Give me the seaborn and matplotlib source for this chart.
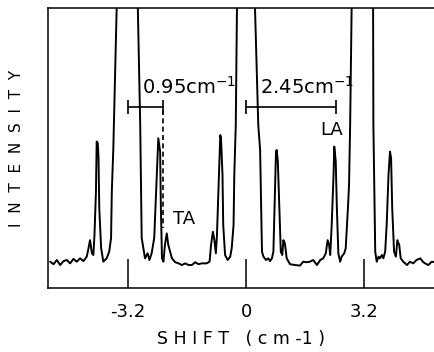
import matplotlib
matplotlib.use("Agg")
import matplotlib.pyplot as plt
import seaborn as sns
import pandas as pd

# Brillouin spectrum trace (shift in cm-1, intensity in arbitrary units 0-100)
# the Rayleigh lines run off the top of the frame, their walls end above the y limit
shift = [
    -5.31, -5.22, -5.13, -5.04, -4.95, -4.86, -4.77, -4.68, -4.59, -4.50,
    -4.41, -4.32, -4.28, -4.23, -4.18, -4.14, -4.11, -4.07, -4.05, -4.02,
    -4.00, -3.98, -3.93, -3.87, -3.78, -3.71, -3.66, -3.64, -3.60, -3.49,
    -2.95, -2.87, -2.83, -2.80, -2.74, -2.67, -2.62, -2.56, -2.49, -2.44,
    -2.38, -2.33, -2.31, -2.28, -2.24, -2.20, -2.15, -2.11, -2.01, -1.92,
    -1.83, -1.74, -1.65, -1.56, -1.47, -1.38, -1.29, -1.20, -1.07, -0.99,
    -0.95, -0.90, -0.86, -0.82, -0.79, -0.75, -0.70, -0.68, -0.64, -0.62,
    -0.57, -0.50, -0.43, -0.39, -0.34, -0.32, -0.28, -0.24,
    0.22, 0.33, 0.38, 0.43, 0.47, 0.54, 0.60, 0.65, 0.70, 0.74,
    0.77, 0.81, 0.83, 0.86, 0.90, 0.94, 0.98, 1.01, 1.05, 1.10,
    1.19, 1.33, 1.46, 1.55, 1.64, 1.73, 1.82, 1.92, 2.01, 2.09,
    2.16, 2.21, 2.25, 2.28, 2.32, 2.37, 2.39, 2.43, 2.46, 2.50,
    2.55, 2.59, 2.66, 2.70, 2.76, 2.79, 2.82, 2.87,
    3.44, 3.45, 3.50, 3.54, 3.59, 3.63, 3.68, 3.72, 3.77, 3.81,
    3.86, 3.90, 3.93, 3.96, 4.01, 4.06, 4.10, 4.15, 4.19, 4.26,
    4.36, 4.44, 4.53, 4.62, 4.72, 4.79, 4.85, 4.94, 5.03, 5.12,
]
intensity = [
    9.4, 8.5, 10.0, 8.2, 9.6, 10.0, 8.8, 10.4, 9.4, 10.6,
    9.6, 11.2, 13.6, 17.1, 12.4, 11.8, 18.9, 34.4, 52.3, 51.7,
    46.4, 28.6, 14.3, 9.4, 10.6, 13.0, 17.9, 34.4, 49.3, 110,
    110, 58.2, 17.9, 15.4, 10.6, 12.4, 10.0, 12.4, 17.9, 34.4,
    53.5, 48.7, 28.6, 10.6, 9.4, 15.4, 19.5, 15.4, 10.6, 9.2,
    8.8, 8.2, 8.8, 8.2, 8.2, 9.2, 8.5, 8.8, 8.8, 9.4,
    15.4, 20.1, 17.1, 12.4, 18.9, 34.4, 54.6, 53.5, 40.4, 22.5,
    11.8, 10.0, 11.2, 14.2, 22.5, 40.4, 58.2, 110,
    110, 58.2, 49.3, 13.0, 11.2, 10.0, 10.6, 9.6, 10.6, 13.0,
    28.6, 48.7, 49.3, 45.1, 28.6, 13.0, 11.8, 17.1, 16.0, 10.6,
    8.5, 8.2, 8.0, 9.4, 9.2, 9.4, 10.0, 8.2, 10.0, 10.6,
    12.4, 17.1, 15.4, 11.8, 22.5, 40.4, 50.5, 45.1, 28.6, 12.4,
    9.4, 11.2, 12.4, 14.2, 28.6, 36.8, 58.2, 110,
    110, 58.2, 13.0, 9.4, 11.2, 10.6, 11.8, 10.6, 13.0, 22.5,
    40.4, 48.7, 46.3, 28.6, 13.0, 11.2, 17.1, 15.4, 10.6, 9.4,
    8.2, 9.4, 8.8, 10.0, 10.6, 9.4, 8.8, 8.2, 9.4, 9.2,
]

tick_pos = [-3.2, 0, 3.2]
tick_labels = ["-3.2", "0", "3.2"]

# splitting brackets: (start, end, label)
ta_bar = (-3.2, -2.25, "0.95cm$^{-1}$")
la_bar = (0.0, 2.45, "2.45cm$^{-1}$")

df = pd.DataFrame({"shift": shift, "intensity": intensity})

sns.set_style("white")
plt.rcParams["font.family"] = ["DejaVu Sans"]
plt.rcParams["axes.unicode_minus"] = False
plt.rcParams["text.color"] = "black"
plt.rcParams["axes.labelcolor"] = "black"
plt.rcParams["xtick.color"] = "black"

fig = plt.figure(figsize=(4.35, 3.52), dpi=100)
ax = fig.add_axes([0.1103, 0.1818, 0.8897, 0.7955])

sns.lineplot(data=df, x="shift", y="intensity", sort=False, estimator=None,
             color="black", linewidth=1.4, ax=ax)

ax.set_xlim(-5.37, 5.12)
ax.set_ylim(0, 100)

# brackets with end caps
bar_y = 64.6
for x0, x1, txt in [ta_bar, la_bar]:
    ax.plot([x0, x1], [bar_y, bar_y], color="black", lw=1.2)
    ax.plot([x0, x1], [bar_y, bar_y], ls="none", marker="|", ms=10,
            mew=1.2, color="black")
    ax.text(x0 + 0.38, 71.8, txt, fontsize=14, ha="left", va="center")

# dashed marker down to the TA peak
ax.plot([ta_bar[1], ta_bar[1]], [63.6, 21.4], color="black", lw=1.2,
        ls=(0, (3, 2)))

ax.text(2.33, 56.4, "LA", fontsize=13, ha="center", va="center")
ax.text(-1.68, 24.6, "TA", fontsize=13, ha="center", va="center")

ax.set_xticks(tick_pos)
ax.set_xticklabels(tick_labels)
ax.set_yticks([])
ax.tick_params(axis="x", direction="in", length=21, width=1.1, pad=11,
               labelsize=13, bottom=True)

for side in ["left", "bottom", "top"]:
    ax.spines[side].set_color("black")
    ax.spines[side].set_linewidth(1.1)
ax.spines["right"].set_visible(False)

ax.set_xlabel("S H I F T   ( c m -1 )", fontsize=12.5, labelpad=6)
ax.set_ylabel("I  N  T  E  N  S  I  T  Y", fontsize=11, labelpad=17)

fig.savefig("out.png", dpi=100)
